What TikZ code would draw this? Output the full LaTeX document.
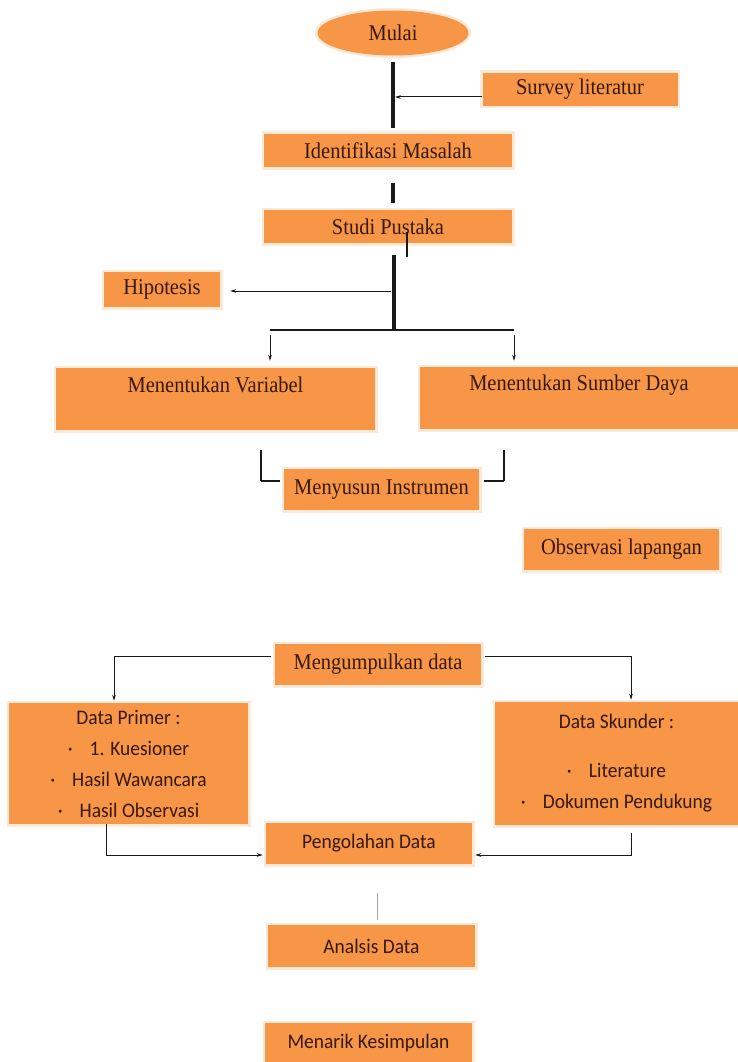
\documentclass[tikz,border=0pt]{standalone}
\usepackage{fontspec}
\setmainfont[FakeStretch=0.91]{Liberation Serif}
\newfontfamily\carl[FakeStretch=0.94]{Carlito}
\usetikzlibrary{shapes.geometric,arrows.meta,calc}
\definecolor{boxor}{RGB}{247,150,70}
\definecolor{halo}{RGB}{253,233,216}
\definecolor{txt}{RGB}{55,24,10}
\definecolor{ln}{RGB}{25,25,25}
\begin{document}
\begin{tikzpicture}[x=1pt,y=-1pt,
  box/.style={fill=boxor, preaction={draw=halo,line width=5pt}, text=txt, inner sep=0pt},
  serif/.style={font=\fontsize{22.5}{26}\selectfont},
  sans/.style={font=\carl\fontsize{20.7}{31}\selectfont},
  thickln/.style={draw=ln, line width=3.2pt},
  medln/.style={draw=ln, line width=2.2pt},
  thinln/.style={draw=ln, line width=1.1pt},
  arr/.style={draw=ln, line width=1pt, -{Stealth[length=6pt,width=3.6pt]}},
  faint/.style={draw=gray!70, line width=0.9pt}]
\fill[white] (0,0) rectangle (738,1062);
\useasboundingbox (0,0) rectangle (738,1062);

% nodes
\node[box, serif, ellipse, minimum width=151pt, minimum height=45pt] (mulai) at (393,33) {Mulai};
\node[box, serif, minimum width=195pt, minimum height=33pt] (survey) at (580,89.5) {Survey literatur};
\node[box, serif, minimum width=248pt, minimum height=33pt] (ident) at (388,150.5) {Identifikasi Masalah};
\node[box, serif, minimum width=248pt, minimum height=33pt] (studi) at (388,226.5) {Studi Pustaka};
\node[box, serif, minimum width=116pt, minimum height=35pt] (hipo) at (162,289.5) {Hipotesis};
\node[box, minimum width=319pt, minimum height=62pt,
      label={[serif, text=txt, inner sep=0pt, yshift=14pt]center:Menentukan Variabel}] (var) at (215.5,399) {};
\node[box, minimum width=318pt, minimum height=62pt,
      label={[serif, text=txt, inner sep=0pt, yshift=13pt]center:Menentukan Sumber Daya}] (sumber) at (579,398) {};
\node[box, serif, minimum width=195pt, minimum height=41pt] (instr) at (381.5,489.5) {Menyusun Instrumen};
\node[box, serif, minimum width=195pt, minimum height=41pt] (obs) at (621.5,549.5) {Observasi lapangan};
\node[box, serif, minimum width=206pt, minimum height=41pt] (kumpul) at (378,664.5) {Mengumpulkan data};
\node[box, sans, align=center, minimum width=239pt, minimum height=121pt] (primer) at (128.5,763.5)
  {Data Primer :\\ ·\hspace{17pt}1. Kuesioner\hspace*{32pt}\\ ·\hspace{17pt}Hasil Wawancara\\ ·\hspace{17pt}Hasil Observasi};
\node[box, sans, align=center, minimum width=243pt, minimum height=123pt] (skunder) at (616.5,763.5)
  {Data Skunder :\\[18pt] ·\hspace{17pt}Literature\\ ·\hspace{17pt}Dokumen Pendukung};
\node[box, sans, minimum width=206pt, minimum height=41pt] (peng) at (369,843.5) {Pengolahan Data};
\node[box, sans, minimum width=207pt, minimum height=42pt] (anal) at (371.5,946) {Analsis Data};
\node[box, sans, minimum width=207pt, minimum height=39pt] (kesim) at (368.5,1042.5) {Menarik Kesimpulan};

% junction coordinates
\coordinate (sj) at (395,97);
\coordinate (hj) at (391,291);
\coordinate (trunk) at (394,330);
\coordinate (bl) at (270,330);
\coordinate (br) at (514,330);
\coordinate (ml) at (261,481);
\coordinate (mr) at (504,481);
\coordinate (kl) at (114,656);
\coordinate (kr) at (631,656);
\coordinate (pl) at (106,855);
\coordinate (pr) at (631,855);

% connectors
\draw[thickln] ([yshift=-6pt]mulai.south) -- ($(mulai.south |- ident.north)+(0,-6)$);
\draw[arr] (survey.west |- sj) -- (sj);
\draw[thickln] ([xshift=5pt,yshift=-16pt]ident.south) -- ([xshift=5pt,yshift=7pt]studi.north);
\draw[medln] ([xshift=19pt,yshift=-5.5pt]studi.center) -- ([xshift=19pt,yshift=-14pt]studi.south);
\draw[thickln] ($(trunk |- studi.south)+(0,12)$) -- (trunk);
\draw[arr] (hj) -- ($(hipo.east |- hj)+(10,0)$);
\draw[medln] (bl) -- (br);
\draw[arr] ($(bl)+(0,5)$) -- ($(bl |- var.north)+(0,-7)$);
\draw[arr] ($(br)+(0,5)$) -- ($(br |- sumber.north)+(0,-6)$);
\draw[thinln] ($(ml |- var.south)+(0,20)$) -- (ml);
\draw[medln] (ml) -- ($(instr.west |- ml)+(-4,0)$);
\draw[thinln] ($(mr |- sumber.south)+(0,21)$) -- (mr);
\draw[medln] (mr) -- ($(instr.east |- mr)+(5,0)$);
\draw[arr] ($(kumpul.west |- kl)+(-4,0)$) -- (kl) -- ($(kl |- primer.north)+(0,-2)$);
\draw[arr] ($(kumpul.east |- kr)+(4,0)$) -- (kr) -- ($(kr |- skunder.north)+(0,-2)$);
\draw[arr] (pl |- primer.south) -- (pl) -- ($(peng.west |- pl)+(-3,0)$);
\draw[arr] ($(pr |- skunder.south)+(0,8)$) -- (pr) -- ($(peng.east |- pr)+(3,0)$);
\draw[faint] ([xshift=8pt,yshift=-29pt]peng.south) -- ([xshift=5.5pt,yshift=5pt]anal.north);
\end{tikzpicture}
\end{document}
